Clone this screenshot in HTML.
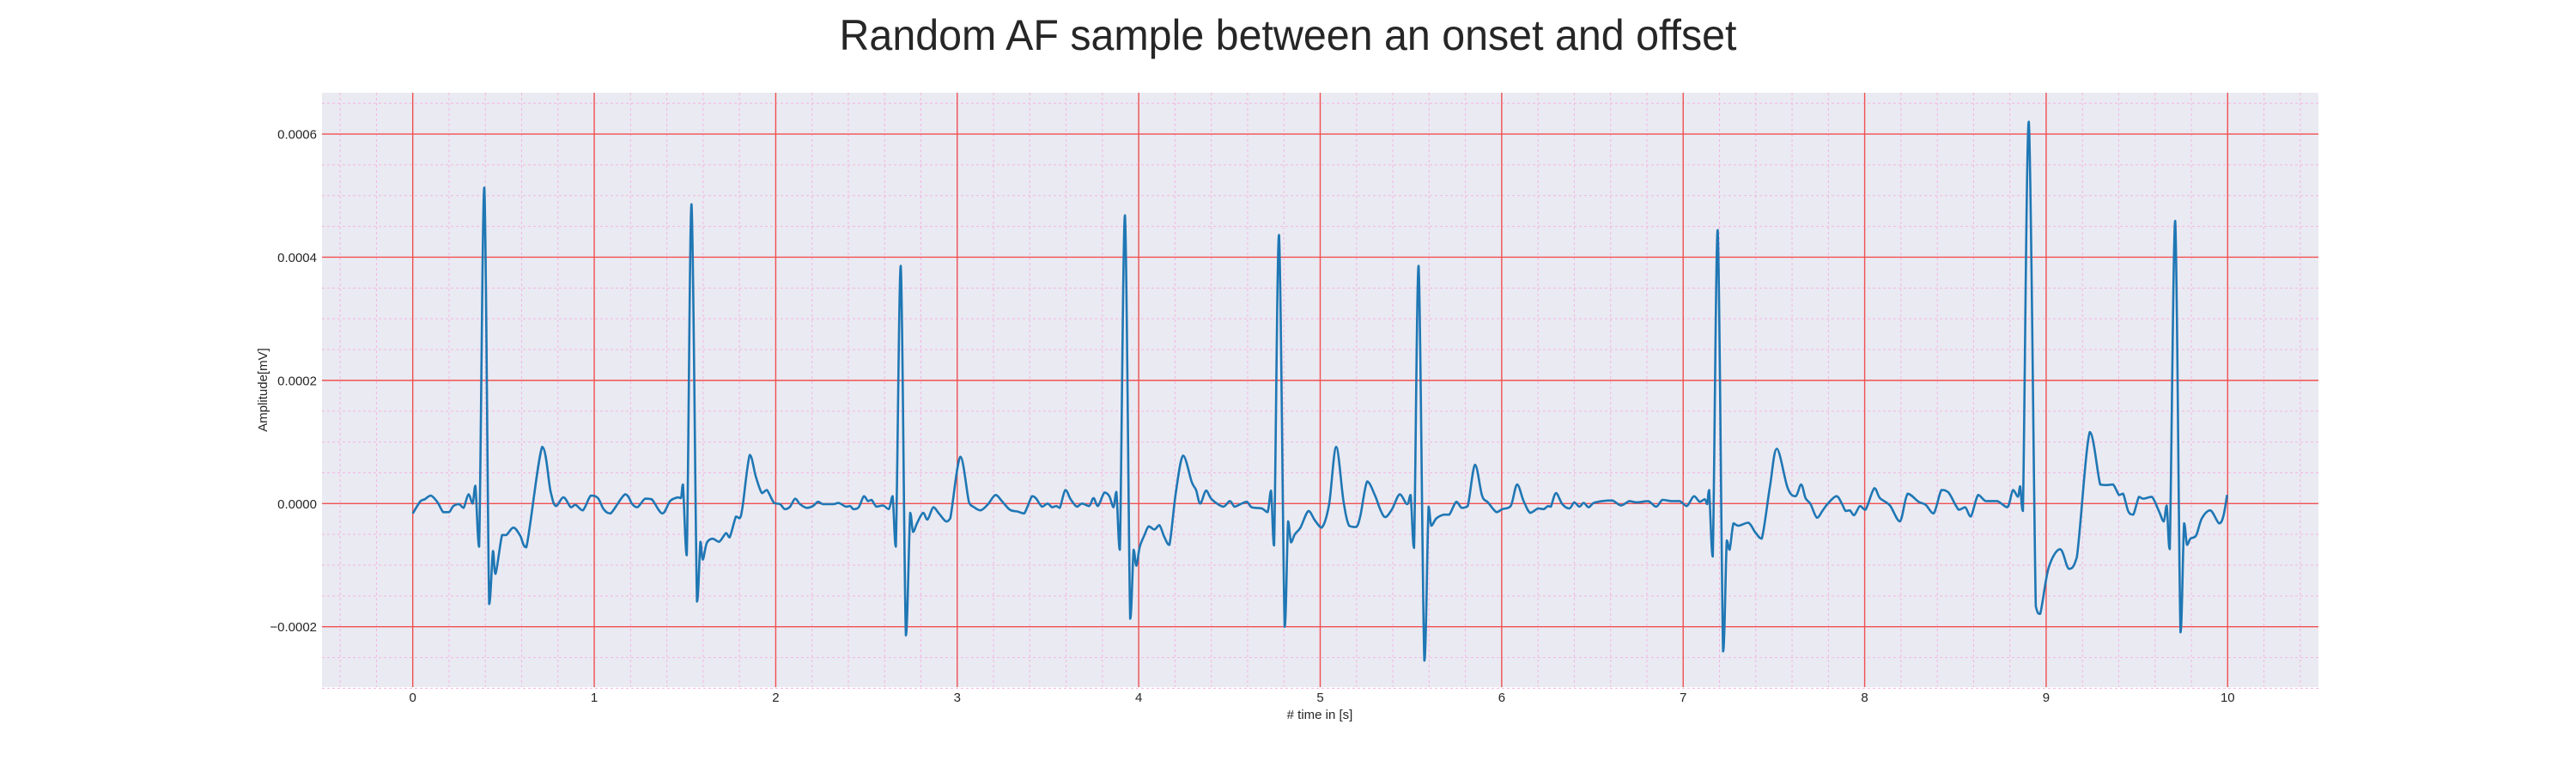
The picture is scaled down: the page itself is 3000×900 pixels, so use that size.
<!DOCTYPE html>
<html><head><meta charset="utf-8">
<style>
html,body{margin:0;padding:0;background:#fff;}
svg{display:block;}
text{font-family:"Liberation Sans",Arial,sans-serif;fill:#262626;}
</style></head>
<body>
<svg id="chart" width="3000" height="900" viewBox="0 0 3000 900" xmlns="http://www.w3.org/2000/svg">
<text x="1500" y="58" text-anchor="middle" font-size="50" textLength="1045" lengthAdjust="spacingAndGlyphs">Random AF sample between an onset and offset</text>
<rect x="375" y="108" width="2325" height="692" fill="#eaeaf2"/>
<g id="grid"></g>
<g id="series"></g>
<g id="ticks"></g>
<text x="1537" y="837" text-anchor="middle" font-size="15"># time in [s]</text>
<text x="0" y="0" text-anchor="middle" font-size="15" transform="translate(311,454) rotate(-90)">Amplitude[mV]</text>
</svg>
<script>
const xTicks = [0,1,2,3,4,5,6,7,8,9,10];
const yTicks = [-0.0002,0,0.0002,0.0004,0.0006];
const yTickLabels = ["\u22120.0002","0.0000","0.0002","0.0004","0.0006"];
// time (s)
const times = [0,0.043,0.066,0.1,0.137,0.168,0.2,0.224,0.255,0.28,0.307,0.33,0.345,0.366,0.394,0.421,0.442,0.456,0.492,0.516,0.555,0.592,0.626,0.713,0.76,0.789,0.831,0.871,0.897,0.937,0.981,1.02,1.052,1.09,1.17,1.21,1.238,1.28,1.317,1.375,1.418,1.459,1.478,1.489,1.51,1.536,1.566,1.585,1.598,1.62,1.652,1.688,1.726,1.746,1.781,1.801,1.817,1.857,1.891,1.924,1.951,1.991,
2.024,2.05,2.079,2.107,2.134,2.17,2.205,2.233,2.26,2.315,2.347,2.386,2.41,2.429,2.457,2.486,2.508,2.528,2.555,2.591,2.623,2.644,2.662,2.689,2.717,2.741,2.757,2.78,2.812,2.836,2.868,2.899,2.938,2.962,3.017,3.065,3.088,3.128,3.167,3.211,3.246,3.29,3.333,3.369,3.412,3.435,3.467,3.498,3.522,3.546,3.565,3.596,3.625,3.659,3.688,3.727,3.751,3.775,3.811,3.838,3.861,3.877,3.896,3.924,3.953,3.972,3.987,4.006,4.032,
4.055,4.087,4.114,4.142,4.169,4.205,4.245,4.292,4.316,4.339,4.371,4.402,4.465,4.502,4.528,4.56,4.596,4.623,4.678,4.71,4.729,4.746,4.773,4.804,4.823,4.839,4.86,4.891,4.935,4.97,5.009,5.049,5.088,5.128,5.159,5.199,5.222,5.259,5.301,5.333,5.359,5.396,5.438,5.479,5.498,5.517,5.542,5.574,5.597,5.612,5.64,5.68,5.711,5.75,5.779,5.813,5.853,5.892,5.924,5.971,6.003,6.05,
6.085,6.121,6.157,6.2,6.231,6.255,6.271,6.299,6.334,6.373,6.4,6.428,6.452,6.479,6.507,6.555,6.61,6.657,6.704,6.744,6.807,6.851,6.886,6.933,6.98,7.02,7.059,7.091,7.119,7.132,7.143,7.163,7.19,7.22,7.24,7.256,7.277,7.304,7.359,7.398,7.433,7.477,7.516,7.576,7.619,7.65,7.674,7.702,7.737,7.769,7.797,7.844,7.871,7.895,7.918,7.942,7.974,8.005,8.053,8.084,
8.139,8.194,8.237,8.297,8.336,8.38,8.423,8.462,8.518,8.554,8.585,8.625,8.667,8.73,8.786,8.817,8.844,8.857,8.872,8.904,8.943,8.967,9.014,9.077,9.125,9.169,9.24,9.298,9.33,9.369,9.401,9.424,9.453,9.48,9.511,9.535,9.582,9.621,9.648,9.664,9.681,9.711,9.74,9.76,9.776,9.795,9.826,9.858,9.905,9.952,9.976,9.997];
// amplitude (x1e-4 mV)
const amps = [-0.16,0.04,0.07,0.13,0.02,-0.14,-0.14,-0.04,-0.01,-0.07,0.15,0,0.29,-0.70,5.13,-1.63,-0.77,-1.14,-0.51,-0.51,-0.39,-0.52,-0.71,0.92,0.19,-0.04,0.10,-0.06,-0.02,-0.11,0.13,0.09,-0.09,-0.16,0.15,-0.01,-0.06,0.08,0.07,-0.16,0.04,0.10,0.09,0.31,-0.84,4.86,-1.59,-0.62,-0.91,-0.64,-0.57,-0.62,-0.48,-0.55,-0.21,-0.24,-0.06,0.79,0.43,0.17,0.22,0.01,
-0.01,-0.09,-0.05,0.08,-0.01,-0.07,-0.04,0.03,-0.01,-0.01,0.01,-0.05,-0.04,-0.09,-0.06,0.12,0.04,0.06,-0.05,-0.03,-0.09,0.12,-0.70,3.86,-2.14,-0.15,-0.46,-0.31,-0.15,-0.26,-0.06,-0.16,-0.29,-0.24,0.76,0.02,-0.05,-0.11,-0.02,0.14,0.04,-0.10,-0.13,-0.16,0.12,0.08,-0.05,0,-0.06,-0.04,-0.07,0.22,0.07,-0.05,0,-0.04,0.09,-0.04,0.18,0.12,-0.06,0.19,-0.75,4.68,-1.87,-0.75,-1.01,-0.70,-0.51,
-0.37,-0.42,-0.35,-0.55,-0.67,0.19,0.78,0.35,0.22,0,0.21,0.07,-0.05,0.04,-0.05,-0.01,0.03,-0.06,-0.08,-0.14,0.21,-0.68,4.36,-2.0,-0.29,-0.63,-0.50,-0.39,-0.12,-0.27,-0.39,-0.01,0.92,0.04,-0.36,-0.38,-0.19,0.36,0.14,-0.11,-0.22,-0.09,0.15,-0.01,0.14,-0.72,3.86,-2.55,-0.05,-0.36,-0.24,-0.18,-0.18,0.03,-0.07,-0.04,0.63,0.13,0.02,-0.14,-0.09,-0.04,
0.31,0.04,-0.15,-0.08,-0.09,-0.04,-0.05,0.17,-0.01,-0.08,0.02,-0.05,0.01,-0.06,0.01,0.04,0.05,-0.03,0.04,0.02,0.04,-0.05,0.06,0.04,0.04,-0.04,0.12,0.03,0.07,-0.01,0.22,-0.86,4.44,-2.40,-0.60,-0.75,-0.32,-0.36,-0.31,-0.47,-0.57,0.25,0.89,0.25,0.12,0.31,0.09,-0.01,-0.23,-0.11,0,0.12,0.02,-0.12,-0.11,-0.19,-0.04,-0.10,0.25,0.09,
-0.03,-0.29,0.16,0.03,-0.02,-0.16,0.22,0.18,-0.10,-0.06,-0.21,0.14,0.04,0.04,-0.06,0.22,0.11,0.28,-0.12,6.20,-1.67,-1.79,-1.04,-0.74,-1.06,-0.87,1.16,0.31,0.30,0.31,0.14,0.16,-0.13,-0.18,0.11,0.08,0.11,-0.12,-0.29,-0.03,-0.74,4.59,-2.09,-0.32,-0.67,-0.57,-0.52,-0.24,-0.11,-0.32,-0.21,0.14];

const L=375,R=2700,T=108,B=800;
const xMin=-0.5,xMax=10.5,yMin=-0.000298,yMax=0.000667;
const sx=t=>L+(t-xMin)/(xMax-xMin)*(R-L);
const sy=v=>B-(v-yMin)/(yMax-yMin)*(B-T);
const NS="http://www.w3.org/2000/svg";
function mk(tag,attrs,parent){const e=document.createElementNS(NS,tag);for(const k in attrs)e.setAttribute(k,attrs[k]);parent.appendChild(e);return e;}
const grid=document.getElementById('grid');
for(let i=-2;i<=52;i++){const t=i*0.2;if(Math.abs(t-Math.round(t))<1e-6)continue;const x=sx(t);
 const ln=mk('line',{x1:x,x2:x,y1:T,y2:B,stroke:'#f3b6e0','stroke-width':1,'stroke-dasharray':'3,3'},grid);
 
 }
for(let i=-6;i<=13;i++){const v=i*0.00005;if(i%4===0)continue;const y=sy(v);
 const ln=mk('line',{x1:L,x2:R,y1:y,y2:y,stroke:'#f3b6e0','stroke-width':1,'stroke-dasharray':'3,3'},grid);
 
 }
const ticks=document.getElementById('ticks');
xTicks.forEach(t=>{const x=sx(t);
 const ln=mk('line',{x1:x,x2:x,y1:T,y2:B,stroke:'#f05050','stroke-width':1.4},grid);
 
 
 const tx=mk('text',{x:x,y:817,'text-anchor':'middle','font-size':15},ticks);tx.textContent=String(t);
 
 });
yTicks.forEach((v,i)=>{const y=sy(v);
 const ln=mk('line',{x1:L,x2:R,y1:y,y2:y,stroke:'#f05050','stroke-width':1.4},grid);
 
 
 const tx=mk('text',{x:369,y:y+5.5,'text-anchor':'end','font-size':15},ticks);tx.textContent=yTickLabels[i];
 
 });
const P=times.map((t,i)=>[sx(t),sy(amps[i]*1e-4)]);
const clamp=(v,a,b)=>Math.max(Math.min(a,b),Math.min(Math.max(a,b),v));
let d='M'+P[0][0].toFixed(1)+','+P[0][1].toFixed(1);
for(let i=0;i<P.length-1;i++){
 const p0=P[Math.max(0,i-1)],p1=P[i],p2=P[i+1],p3=P[Math.min(P.length-1,i+2)];
 const c1x=p1[0]+(p2[0]-p0[0])/6,c1y=clamp(p1[1]+(p2[1]-p0[1])/6,p1[1],p2[1]);
 const c2x=p2[0]-(p3[0]-p1[0])/6,c2y=clamp(p2[1]-(p3[1]-p1[1])/6,p1[1],p2[1]);
 d+=' C'+c1x.toFixed(1)+','+c1y.toFixed(1)+' '+c2x.toFixed(1)+','+c2y.toFixed(1)+' '+p2[0].toFixed(1)+','+p2[1].toFixed(1);
}
const pl=mk('path',{d:d,fill:'none',stroke:'#1f77b4','stroke-width':2.6,'stroke-linejoin':'round'},document.getElementById('series'));


</script>
</body></html>
